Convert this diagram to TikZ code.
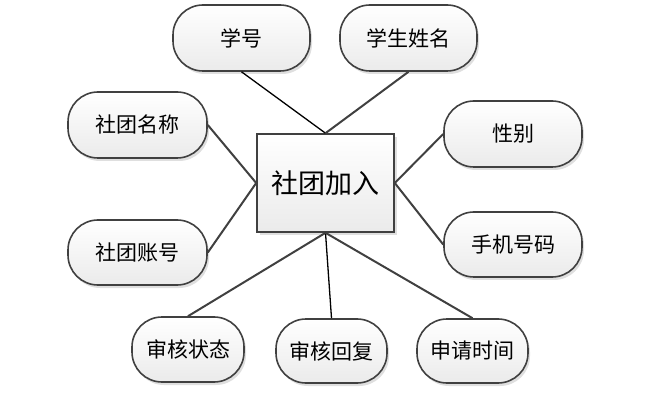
\documentclass[tikz,border=0pt]{standalone}
\usepackage{fontspec}
\newfontfamily\cjk{Noto Sans CJK SC}
\usetikzlibrary{shadows}
\definecolor{edgegray}{HTML}{404040}
\tikzset{
  attr/.style={draw=edgegray, line width=1.6pt, rounded corners=30pt,
    top color=white, bottom color=gray!16,
    drop shadow={shadow xshift=2pt, shadow yshift=-3pt, opacity=0.25, fill=gray},
    inner sep=0pt, font=\cjk\fontsize{21}{21}\selectfont},
  entity/.style={draw=edgegray, line width=1.6pt,
    top color=white, bottom color=gray!16,
    drop shadow={shadow xshift=3pt, shadow yshift=-3pt, opacity=0.25, fill=gray},
    inner sep=0pt, minimum width=137pt, minimum height=98pt,
    font=\cjk\fontsize{27}{27}\selectfont},
  link/.style={draw=edgegray, line width=2pt},
  thinlink/.style={draw=black, line width=1.3pt}
}
\begin{document}
\begin{tikzpicture}[x=1pt,y=-1pt]
\useasboundingbox (0,0) rectangle (671,411);
\node[entity] (c) at (325.5,183) {社团加入};
\node[attr, minimum width=137pt, minimum height=66pt] (xh) at (241.5,38) {学号};
\node[attr, minimum width=137pt, minimum height=66pt] (xm) at (408.5,38) {学生姓名};
\node[attr, minimum width=139pt, minimum height=66pt] (mc) at (137.5,125) {社团名称};
\node[attr, minimum width=139pt, minimum height=65pt] (zh) at (137.5,252.5) {社团账号};
\node[attr, minimum width=138pt, minimum height=66pt] (xb) at (513,134) {性别};
\node[attr, minimum width=138pt, minimum height=65pt] (sj) at (513,244.5) {手机号码};
\node[attr, minimum width=112pt, minimum height=65pt] (zt) at (188,349.5) {审核状态};
\node[attr, minimum width=111pt, minimum height=64pt] (hf) at (331.5,351) {审核回复};
\node[attr, minimum width=111pt, minimum height=64pt] (sq) at (472.5,351) {申请时间};
\draw[thinlink] (xh.south) -- (c.north);
\draw[link] (xm.south) -- (c.north);
\draw[link] (mc.east) -- (c.west);
\draw[link] (zh.east) -- (c.west);
\draw[link] (xb.west) -- (c.east);
\draw[link] (sj.west) -- (c.east);
\draw[link] (zt.north) -- (c.south);
\draw[thinlink] (hf.north) -- (c.south);
\draw[link] (sq.north) -- (c.south);
\end{tikzpicture}
\end{document}
